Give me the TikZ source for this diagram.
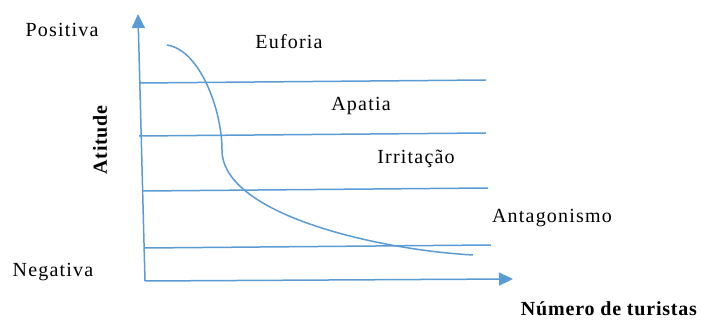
\documentclass[tikz,border=0pt]{standalone}
\usepackage{fontspec}
\setmainfont{Liberation Serif}
\usetikzlibrary{arrows.meta}
\definecolor{linhaazul}{RGB}{91,155,213}

\begin{document}
\begin{tikzpicture}[x=1pt,y=-1pt,
    linha/.style={draw=linhaazul,line width=1.5pt},
    eixo/.style={linha,-{Triangle[length=14pt,width=13pt]}},
    rotulo/.style={font=\fontsize{20}{22}\selectfont\addfontfeatures{LetterSpace=6},inner sep=0pt},
    titulo/.style={font=\fontsize{20}{22}\selectfont\bfseries\addfontfeatures{LetterSpace=4},inner sep=0pt}]
\useasboundingbox (0,0) rectangle (702,320);

\coordinate (O) at (145,281);
\coordinate (Y) at (138,14);
\coordinate (X) at (513,279);

\draw[eixo] (O) -- (Y);
\draw[eixo] (O) -- (X);

% faixas de atitude
\coordinate (a1) at (140,83);  \coordinate (b1) at (486,80);
\coordinate (a2) at (139,136); \coordinate (b2) at (486,133);
\coordinate (a3) at (143,191); \coordinate (b3) at (488,188);
\coordinate (a4) at (145,248); \coordinate (b4) at (491,245);
\draw[linha] (a1) -- (b1);
\draw[linha] (a2) -- (b2);
\draw[linha] (a3) -- (b3);
\draw[linha] (a4) -- (b4);

\draw[linha] (167,45) .. controls (200,50) and (222,110) .. (222,150)
    .. controls (222,215) and (380,250) .. (473,255);

\node[rotulo] (pos) at (62,30) {Positiva};
\node[rotulo] (neg) at (53,272) {Negativa};
\node[titulo,rotate=90] (ati) at (100,140) {Atitude};
\node[rotulo] (euf) at (289,42) {Euforia};
\node[rotulo] (apa) at (361,106) {Apatia};
\node[rotulo] (irr) at (416,159) {Irritação};
\node[rotulo] (ant) at (552,218) {Antagonismo};
\node[titulo,anchor=base] (num) at (609,316) {Número de turistas};
\end{tikzpicture}
\end{document}
